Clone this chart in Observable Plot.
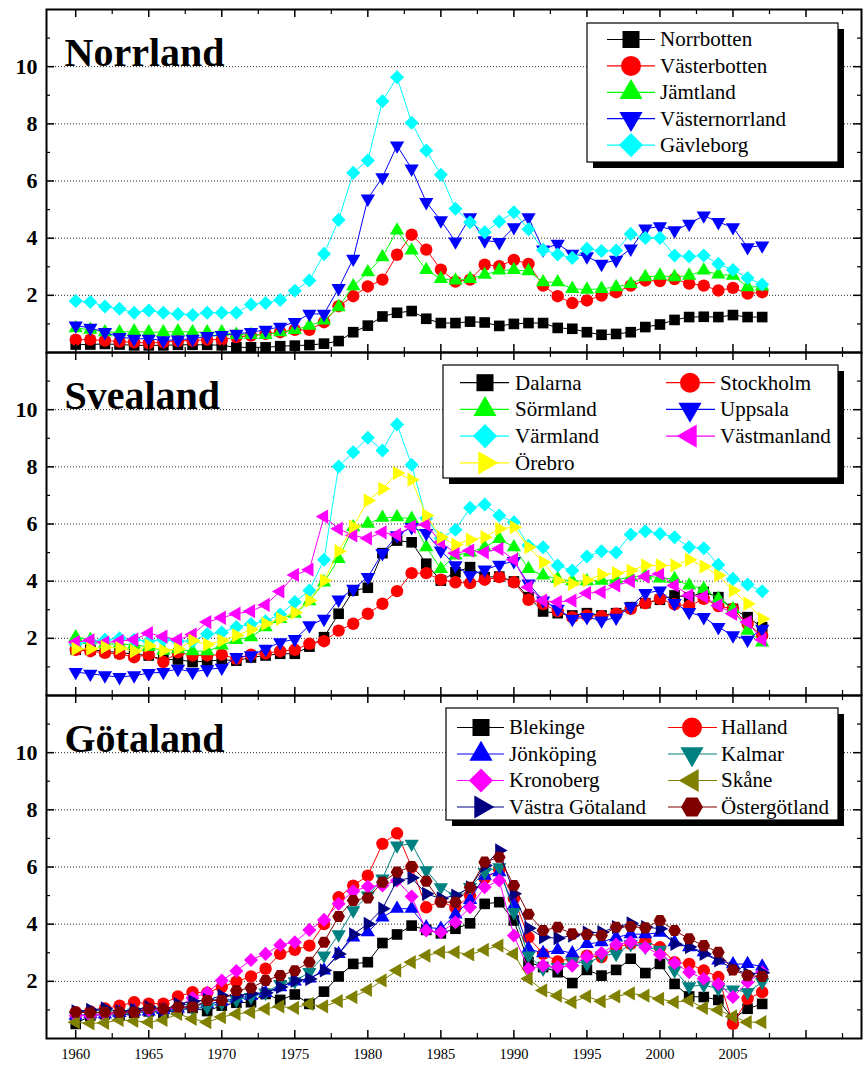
<!DOCTYPE html>
<html><head><meta charset="utf-8">
<script src="https://cdn.jsdelivr.net/npm/d3@7"></script>
<script src="https://cdn.jsdelivr.net/npm/@observablehq/plot@0.6"></script>
<style>
html,body{margin:0;padding:0;background:#fff;}
#chart{position:relative;width:866px;height:1068px;overflow:hidden;background:#fff;}
#chart > div.panel{position:absolute;left:0;}
#chart svg{display:block;}
#chart svg text{font-family:"Liberation Serif","Times New Roman",serif !important;}
</style></head><body><div id="chart"></div>
<script>
// ---------- data ----------
const years = [1960,1961,1962,1963,1964,1965,1966,1967,1968,1969,1970,1971,1972,1973,1974,1975,1976,1977,1978,1979,1980,1981,1982,1983,1984,1985,1986,1987,1988,1989,1990,1991,1992,1993,1994,1995,1996,1997,1998,1999,2000,2001,2002,2003,2004,2005,2006,2007];
const xTickLabels = [1960,1965,1970,1975,1980,1985,1990,1995,2000,2005];
const yTickLabels = [2,4,6,8,10];

// Norrland
const norrbotten    = [0.28,0.28,0.3,0.28,0.25,0.25,0.25,0.27,0.27,0.27, 0.25,0.18,0.18,0.18,0.22,0.24,0.26,0.31,0.40,0.71, 0.94,1.26,1.39,1.45,1.18,1.03,1.03,1.08,1.05,0.93, 1.0,1.03,1.03,0.86,0.83,0.71,0.62,0.65,0.71,0.89, 0.98,1.14,1.24,1.25,1.24,1.31,1.24,1.24];
const vasterbotten  = [0.45,0.45,0.42,0.38,0.36,0.33,0.36,0.40,0.42,0.45, 0.45,0.54,0.59,0.65,0.71,0.79,0.79,1.06,1.62,1.97, 2.31,2.55,3.42,4.12,3.6,2.9,2.48,2.55,3.07,3.02, 3.24,3.1,2.34,1.97,1.73,1.82,1.99,2.11,2.34,2.52, 2.5,2.57,2.41,2.34,2.17,2.26,2.06,2.11];
const jamtland      = [0.85,0.8,0.71,0.71,0.74,0.71,0.71,0.74,0.71,0.71, 0.71,0.62,0.62,0.62,0.71,0.79,0.94,1.12,1.59,2.32, 2.81,3.34,4.27,3.57,2.89,2.58,2.52,2.58,2.72,2.87, 2.89,2.85,2.46,2.46,2.23,2.2,2.23,2.29,2.4,2.64, 2.69,2.64,2.69,2.87,2.73,2.69,2.29,2.31];
const vasternorrland= [0.94,0.86,0.71,0.54,0.48,0.48,0.42,0.45,0.48,0.57, 0.61,0.65,0.71,0.79,0.9,1.06,1.35,1.35,2.25,3.28, 5.38,6.13,7.24,6.43,5.26,4.62,3.88,4.73,3.92,3.86, 4.38,4.73,3.6,3.8,3.45,3.36,3.1,3.24,3.63,4.33, 4.41,4.27,4.5,4.79,4.56,4.38,3.68,3.74];
const gavleborg     = [1.8,1.77,1.61,1.53,1.39,1.47,1.39,1.35,1.31,1.39, 1.39,1.39,1.68,1.73,1.84,2.16,2.52,3.45,4.64,6.29, 6.72,8.79,9.63,8.04,7.07,6.22,5.03,4.56,4.21,4.58, 4.91,4.31,3.59,3.43,3.31,3.63,3.55,3.57,4.15,4.01, 4.01,3.39,3.36,3.39,3.1,2.89,2.61,2.38];

// Svealand
const dalarna     = [1.6,1.6,1.55,1.5,1.45,1.4,1.25,1.26,1.17,1.2, 1.25,1.22,1.33,1.4,1.46,1.46,1.71,2.04,2.86,3.67, 3.77,4.98,5.42,5.36,4.61,4.02,4.31,4.49,4.14,4.16, 3.99,3.44,2.94,2.88,2.8,2.88,2.8,2.88,3.09,3.23, 3.35,3.5,3.44,3.62,3.44,3.03,2.74,2.39];
const stockholm   = [1.6,1.55,1.49,1.46,1.34,1.43,1.17,1.51,1.4,1.4, 1.43,1.28,1.43,1.47,1.55,1.6,1.81,1.9,2.27,2.51, 2.86,3.21,3.65,4.28,4.28,4.05,3.96,3.93,4.05,4.14, 3.96,3.35,3.2,2.95,2.74,2.8,2.77,2.86,3.03,3.23, 3.38,3.19,3.13,3.38,3.13,3.03,2.51,2.1];
const sormland    = [2.04,1.95,1.81,1.8,1.78,1.7,1.57,1.62,1.55,1.55, 1.75,1.95,2.04,2.39,2.68,2.86,3.3,3.96,4.78,5.89, 6.01,6.22,6.24,6.18,5.19,4.43,4.9,5.01,5.19,5.48, 5.19,4.43,4.2,4.08,4.0,4.0,4.02,4.05,4.14,4.2, 4.1,4.08,3.85,3.73,3.38,3.03,2.27,1.86];
const uppsala     = [0.82,0.76,0.7,0.64,0.7,0.78,0.82,0.93,0.82,0.91, 0.97,1.34,1.4,1.63,1.86,1.97,2.45,2.68,3.35,3.73, 4.14,4.98,5.6,5.89,5.68,5.07,4.55,4.2,4.4,4.57, 4.7,3.91,3.32,3.03,2.68,2.74,2.62,2.72,3.11,3.58, 3.67,3.23,2.92,2.74,2.39,2.1,1.95,2.33];
const varmland    = [1.8,1.9,1.95,2.0,1.95,1.9,1.95,1.9,1.9,2.15, 2.2,2.4,2.5,2.6,2.83,3.27,3.67,4.75,8.01,8.51, 9.02,8.57,9.48,8.07,6.2,5.5,5.8,6.57,6.68,6.3, 6.06,5.25,5.19,4.55,4.37,4.86,5.05,5.0,5.63,5.75, 5.66,5.54,5.19,5.15,4.57,4.08,3.88,3.65];
const vastmanland = [1.87,1.93,1.85,1.9,1.95,2.18,2.06,1.95,2.13,2.57, 2.72,2.86,2.95,3.17,3.64,4.22,4.4,6.26,5.83,5.6, 5.5,5.71,5.62,5.91,5.98,5.36,4.98,5.07,5.01,5.13, 4.75,3.79,3.32,3.27,3.32,3.58,3.62,3.85,4.0,4.16, 4.26,3.85,3.5,3.46,3.15,2.86,2.57,1.95];
const orebro      = [1.63,1.63,1.69,1.66,1.55,1.75,1.57,1.63,1.92,1.78, 1.92,2.1,2.3,2.51,2.68,2.9,3.32,4.02,5.05,5.91, 6.82,7.23,7.78,7.55,6.3,5.54,5.28,5.45,5.54,5.83, 5.89,5.19,4.66,4.02,3.91,4.03,4.23,4.28,4.37,4.55, 4.55,4.55,4.75,4.51,4.2,3.67,3.21,2.68];

// Götaland
const blekinge      = [0.51,0.8,0.85,0.8,0.9,0.95,0.9,1.0,1.07,0.96, 1.15,1.25,1.27,1.56,1.35,1.54,1.21,1.64,2.17,2.61, 2.67,3.34,3.64,3.95,3.8,3.68,3.84,4.03,4.71,4.77, 4.13,2.67,2.5,2.32,1.94,2.4,2.2,2.4,2.79,2.29, 2.61,1.91,1.47,1.45,1.35,0.69,1.04,1.21];
const halland       = [0.92,0.95,1.05,1.15,1.27,1.22,1.22,1.47,1.62,1.6, 1.8,1.99,2.17,2.44,2.96,3.1,3.25,4.0,4.94,5.35, 5.7,6.81,7.18,6.0,4.59,4.8,4.57,5.0,5.6,5.9, 4.9,3.54,2.96,2.7,2.8,2.9,2.85,3.2,3.31,3.4, 3.19,2.67,2.61,2.38,2.15,0.51,1.39,1.62];
const jonkoping     = [0.8,0.85,0.85,0.9,0.95,0.95,1.0,1.05,1.15,1.2, 1.3,1.4,1.5,1.6,1.8,2.0,2.1,2.38,2.96,3.54, 3.72,4.24,4.54,4.54,3.89,3.84,4.34,4.85,5.7,5.82, 4.65,3.14,2.99,3.1,2.98,3.31,3.37,3.54,3.65,3.65, 3.7,3.37,3.2,3.02,2.73,2.6,2.61,2.52];
const kalmar        = [0.8,0.8,0.85,0.85,0.9,0.95,0.95,1.0,1.05,1.1, 1.25,1.35,1.45,1.6,1.9,2.0,2.32,2.9,3.64,4.48, 5.0,5.59,6.75,6.81,5.88,5.29,4.97,5.3,5.82,5.99, 4.42,2.9,2.44,2.5,2.7,2.61,2.9,2.96,3.3,3.2, 3.1,2.38,1.82,1.87,1.74,1.71,1.62,1.97];
const kronoberg     = [0.8,0.8,0.85,0.9,0.95,1.0,1.0,1.1,1.42,1.6, 2.03,2.36,2.75,2.96,3.27,3.37,3.8,4.15,4.71,5.15, 5.32,5.35,5.53,4.97,3.78,3.72,4.07,4.59,5.29,5.53, 3.6,2.44,2.55,2.5,2.55,2.87,2.99,3.29,3.37,3.19, 2.94,2.64,2.32,2.09,1.91,1.45,1.97,2.32];
const skane         = [0.57,0.53,0.55,0.65,0.62,0.57,0.65,0.86,0.69,0.57, 0.75,0.86,0.92,1.04,1.12,1.07,1.21,1.12,1.31,1.45, 1.7,2.03,2.38,2.67,2.9,3.02,3.02,2.94,3.1,3.25, 2.96,2.09,1.68,1.5,1.27,1.47,1.3,1.47,1.58,1.5, 1.39,1.27,1.33,1.07,1.0,0.77,0.57,0.57];
const vastraGotaland= [0.95,1.0,1.05,0.95,1.0,1.1,1.0,1.2,1.3,1.35, 1.5,1.5,1.57,1.6,1.8,2.02,2.08,2.38,2.96,3.64, 4.01,4.54,5.53,5.62,5.06,4.9,5.0,5.29,6.05,6.58, 5.06,3.86,3.54,3.51,3.6,3.7,3.72,3.9,4.03,3.9, 3.84,3.31,3.2,2.96,2.73,2.44,2.26,2.3];
const ostergotland  = [0.92,0.9,0.92,0.92,0.92,1.04,1.04,1.1,1.1,1.33, 1.33,1.68,1.77,2.03,2.2,2.37,2.67,3.37,4.27,4.83, 4.92,5.47,5.82,6.02,5.5,4.77,4.77,5.29,6.17,6.34, 5.35,4.35,3.78,3.89,3.66,3.64,3.6,3.89,3.92,3.87, 4.13,3.78,3.49,3.25,3.02,2.4,2.2,2.17];

const norrlandNames = ["Norrbotten","Västerbotten","Jämtland","Västernorrland","Gävleborg"];
const svealandNames = ["Dalarna","Stockholm","Sörmland","Uppsala","Värmland","Västmanland","Örebro"];
const gotalandNames = ["Blekinge","Halland","Jönköping","Kalmar","Kronoberg","Skåne","Västra Götaland","Östergötland"];

// ---------- styles ----------
const SERIF = "Liberation Serif";
const norrlandStyle = [["#000000","square"],["#ff0000","circle"],["#00ff00","up"],["#0000ff","down"],["#00ffff","diamond"]];
const svealandStyle = [["#000000","square"],["#ff0000","circle"],["#00ff00","up"],["#0000ff","down"],["#00ffff","diamond"],["#ff00ff","left"],["#ffff00","right"]];
const gotalandStyle = [["#000000","square"],["#ff0000","circle"],["#0000ff","up"],["#008080","down"],["#ff00ff","diamond"],["#808000","left"],["#000080","right"],["#800000","hexagon"]];

const hexSym = {draw(ctx, size){
  const R = Math.sqrt(size / (1.5*Math.sqrt(3)));
  for (let i = 0; i < 6; i++) {
    const a = Math.PI/3*i;
    const x = R*Math.cos(a), y = R*Math.sin(a);
    if (i) ctx.lineTo(x,y); else ctx.moveTo(x,y);
  }
  ctx.closePath();
}};
const SYM = {
  square:  {plot:"square",   d3:d3.symbolSquare,   rotate:0,   r:6.0, lr:9.6},
  circle:  {plot:"circle",   d3:d3.symbolCircle,   rotate:0,   r:6.2, lr:10},
  up:      {plot:"triangle", d3:d3.symbolTriangle, rotate:0,   r:5.3, lr:8.6},
  down:    {plot:"triangle", d3:d3.symbolTriangle, rotate:180, r:5.3, lr:8.6},
  right:   {plot:"triangle", d3:d3.symbolTriangle, rotate:90,  r:5.3, lr:8.6},
  left:    {plot:"triangle", d3:d3.symbolTriangle, rotate:-90, r:5.3, lr:8.6},
  diamond: {plot:"square",   d3:d3.symbolSquare,   rotate:45,  r:5.6, lr:9.6},
  hexagon: {plot:hexSym,     d3:hexSym,            rotate:0,   r:5.8, lr:10}
};

// ---------- layout ----------
const W = 866, ML = 46, MR = 5, INNER_H = 343;
const INNER_W = W - ML - MR;
const xDomain = [1958, 2013.8];
const yDomain = [0, 12];
const xMajor = [1960,1965,1970,1975,1980,1985,1990,1995,2000,2005,2010];
const xMinor = [1962.5,1967.5,1972.5,1977.5,1982.5,1987.5,1992.5,1997.5,2002.5,2007.5,2012.5];
const yMinor = [1,3,5,7,9,11];

function panel(names, style, series, title, mt, mb, showX) {
  const marks = [];
  marks.push(Plot.ruleY(yTickLabels, {stroke:"#000", strokeWidth:1, strokeDasharray:"1,2", strokeOpacity:0.85}));
  names.forEach((name, k) => {
    const data = years.map((yr, i) => ({year: yr, value: series[k][i], name}));
    const [color, sym] = style[k];
    const s = SYM[sym];
    marks.push(Plot.line(data, {x:"year", y:"value", stroke:color, strokeWidth:1}));
    marks.push(Plot.dot(data, {x:"year", y:"value", symbol:s.plot, rotate:s.rotate, r:s.r, fill:color, stroke:"none"}));
  });
  // inward ticks
  marks.push(Plot.ruleY(yTickLabels, {stroke:"#000", strokeWidth:1.5, insetRight: INNER_W - 8}));
  marks.push(Plot.ruleY(yMinor, {stroke:"#000", strokeWidth:1.2, insetRight: INNER_W - 4}));
  marks.push(Plot.ruleY(yTickLabels, {stroke:"#000", strokeWidth:1.5, insetLeft: INNER_W - 8}));
  marks.push(Plot.ruleY(yMinor, {stroke:"#000", strokeWidth:1.2, insetLeft: INNER_W - 4}));
  marks.push(Plot.ruleX(xMajor, {stroke:"#000", strokeWidth:1.5, insetTop: INNER_H - 8}));
  marks.push(Plot.ruleX(xMinor, {stroke:"#000", strokeWidth:1.2, insetTop: INNER_H - 5}));
  marks.push(Plot.ruleX(xMajor, {stroke:"#000", strokeWidth:1.5, insetBottom: INNER_H - 8}));
  marks.push(Plot.ruleX(xMinor, {stroke:"#000", strokeWidth:1.2, insetBottom: INNER_H - 5}));
  marks.push(Plot.frame({stroke:"#000", strokeWidth:2}));
  marks.push(Plot.axisY(yTickLabels, {label:null, tickSize:0, tickPadding:9, fontSize:22, fontWeight:"bold", fontFamily:SERIF, fill:"#000"}));
  if (showX) marks.push(Plot.axisX(xTickLabels, {label:null, tickSize:0, tickPadding:10, fontSize:14.5, fontFamily:SERIF, fill:"#000", tickFormat: d => String(d)}));
  marks.push(Plot.text([title], {text: d => d, frameAnchor:"top-left", dx:18, dy:28, fontSize:40, fontWeight:"bold", fontFamily:SERIF, textAnchor:"start", fill:"#000"}));
  return Plot.plot({
    width: W, height: mt + INNER_H + mb,
    marginTop: mt, marginBottom: mb, marginLeft: ML, marginRight: MR,
    x: {domain: xDomain, axis: null, label: null},
    y: {domain: yDomain, axis: null, label: null},
    style: {background: "none", fontFamily: SERIF, overflow: "visible"},
    marks
  });
}

const chart = document.getElementById("chart");
function place(node, top) {
  const d = document.createElement("div");
  d.className = "panel";
  d.style.top = top + "px";
  d.appendChild(node);
  chart.appendChild(d);
}
place(panel(norrlandNames, norrlandStyle, [norrbotten, vasterbotten, jamtland, vasternorrland, gavleborg], "Norrland", 9, 1, false), 0);
place(panel(svealandNames, svealandStyle, [dalarna, stockholm, sormland, uppsala, varmland, vastmanland, orebro], "Svealand", 1, 1, false), 351);
place(panel(gotalandNames, gotalandStyle, [blekinge, halland, jonkoping, kalmar, kronoberg, skane, vastraGotaland, ostergotland], "Götaland", 1, 30, true), 694);

// ---------- legends ----------
const overlay = d3.select(chart).append("svg")
  .attr("width", W).attr("height", 1068)
  .style("position","absolute").style("left","0px").style("top","0px");

function legend(box, names, style, cols) {
  const g = overlay.append("g");
  g.append("rect").attr("x", box.x + 6).attr("y", box.y + 6).attr("width", box.w).attr("height", box.h).attr("fill", "#000");
  g.append("rect").attr("x", box.x).attr("y", box.y).attr("width", box.w).attr("height", box.h).attr("fill", "#fff").attr("stroke", "#000").attr("stroke-width", 1.2);
  names.forEach((name, k) => {
    const col = cols ? k % 2 : 0;
    const row = cols ? Math.floor(k / 2) : k;
    const c = box.cols[col];
    const y = box.row0 + row * box.dy;
    const [color, sym] = style[k];
    const s = SYM[sym];
    g.append("line").attr("x1", c.l1).attr("x2", c.l2).attr("y1", y).attr("y2", y).attr("stroke", color).attr("stroke-width", 1.2);
    g.append("path").attr("d", d3.symbol().type(s.d3).size(Math.PI * s.lr * s.lr)())
      .attr("transform", `translate(${c.sx},${y}) rotate(${s.rotate})`).attr("fill", color);
    g.append("text").attr("x", c.tx).attr("y", y).attr("dy", "0.33em").style("font-family", "'Liberation Serif', serif").attr("font-size", 21).attr("fill", "#000").text(name);
  });
}
legend({x:587, y:23, w:251, h:139, row0:39.5, dy:26.4, cols:[{l1:607, l2:655, sx:631, tx:660}]}, norrlandNames, norrlandStyle, false);
legend({x:443, y:365, w:395, h:113, row0:382.7, dy:26.7, cols:[{l1:460, l2:509, sx:485, tx:515},{l1:666, l2:715, sx:690, tx:720}]}, svealandNames, svealandStyle, true);
legend({x:446, y:708, w:392, h:112, row0:727.5, dy:26.5, cols:[{l1:457, l2:504, sx:481, tx:509},{l1:668, l2:717, sx:692, tx:721}]}, gotalandNames, gotalandStyle, true);
</script></body></html>
